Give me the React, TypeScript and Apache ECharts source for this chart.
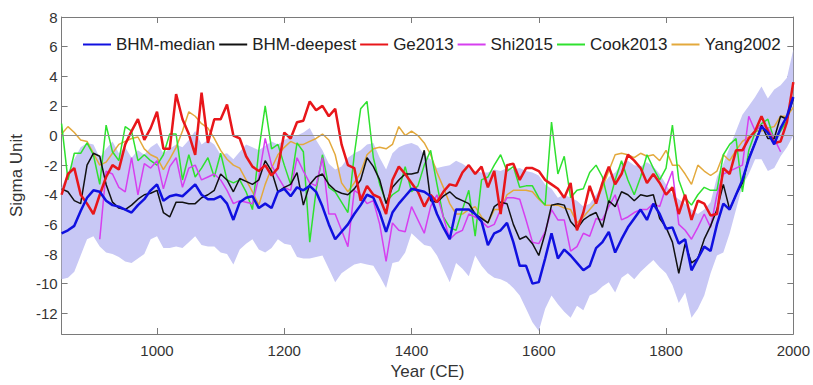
import React, { useEffect, useRef } from "react";
import * as echarts from "echarts";

// decades 850..2000 CE
const years: number[] = Array.from({ length: 116 }, (_, i) => 850 + 10 * i);

const xTicks = [1000, 1200, 1400, 1600, 1800, 2000];
const yTicks = [-12, -10, -8, -6, -4, -2, 0, 2, 4, 6, 8];

const bhmMedian = [
  -6.6, -6.4, -6.1, -5.1, -4.2, -3.7, -3.8, -4.4, -4.7, -4.8,
  -5.0, -5.2, -4.7, -4.3, -3.7, -3.3, -4.4, -4.1, -4.0, -4.1,
  -3.7, -3.3, -4.0, -4.3, -4.3, -4.1, -4.6, -5.7, -4.5, -4.2,
  -4.1, -4.9, -4.6, -4.9, -3.8, -3.6, -4.1, -3.5, -3.7, -3.4,
  -3.8, -4.8, -6.0, -7.0, -6.5, -6.0, -5.3, -4.7, -4.0, -4.2,
  -5.2, -6.5, -5.2, -4.6, -4.1, -3.6, -3.7, -3.8, -4.1, -5.3,
  -6.2, -7.0, -5.0, -5.0, -5.0, -5.3, -5.8, -7.4, -6.6, -6.4,
  -5.9, -7.2, -8.8, -8.8, -10.0, -9.9, -8.3, -6.6, -8.3, -7.7,
  -8.1, -8.6, -9.1, -8.8, -7.6, -7.2, -6.5, -7.9, -7.0, -6.2,
  -5.6, -5.0, -5.7, -4.6, -5.3, -6.3, -6.2, -7.3, -7.0, -9.1,
  -8.3, -7.5, -7.8, -6.0, -4.6, -5.0, -4.0, -3.0, -1.6, -0.5,
  0.6, 0.2, -0.6, 0.5, 1.3, 2.6,
];

const bhmUpper = [
  -3.5, -2.5, -1.6, -0.8, -0.5, -0.6, -1.5, -0.9, -0.4, -1.2,
  -0.8, -1.5, -1.0, -1.3, -0.8, -0.5, -1.2, -0.9, -0.6, -0.8,
  -0.3, 0.3, -0.6, -0.3, -0.6, -1.3, -1.2, -1.6, -1.1, -0.6,
  -0.8, -1.0, -0.7, -0.4, -0.6, -0.3, -0.1, 0.0, 0.2, 0.5,
  -0.3, -1.0, -1.9, -2.3, -2.1, -1.5, -1.2, -1.0, -0.6, -0.5,
  -1.5, -2.3, -1.2, -0.8, -0.6, -0.5, -0.7, -1.3, -1.6, -2.2,
  -2.1, -2.0, -1.7, -1.9, -2.2, -2.4, -2.5, -2.5, -2.3, -2.4,
  -2.2, -2.3, -2.2, -2.4, -2.5, -2.7, -3.3, -3.6, -4.2, -4.0,
  -4.2, -4.4, -4.8, -4.6, -4.0, -3.4, -2.8, -2.5, -1.9, -1.7,
  -2.0, -2.1, -1.8, -2.1, -2.6, -3.3, -4.0, -4.3, -4.6, -5.0,
  -5.3, -5.0, -4.5, -2.8, -1.9, -0.8, 0.3, 1.4, 2.0, 2.6,
  3.3, 2.5, 3.1, 3.4, 3.9, 5.8,
];

const bhmLower = [
  -9.7, -9.6, -9.2, -8.1, -7.0, -6.8, -7.5, -7.9, -8.0, -8.2,
  -8.5, -8.6, -8.3, -8.0, -7.0, -6.8, -7.6, -7.6, -7.5, -7.6,
  -7.2, -6.8, -7.4, -7.5, -7.5, -7.9, -8.0, -8.7, -7.7, -7.3,
  -7.0, -7.7, -7.9, -7.6, -7.0, -7.3, -7.4, -8.2, -8.3, -8.3,
  -8.2, -8.1, -9.0, -9.9, -9.3, -9.0, -8.7, -8.6, -8.7, -8.8,
  -9.5, -10.3, -8.6, -8.5, -7.9, -6.6, -7.0, -7.4, -7.5, -8.1,
  -9.0, -9.9, -8.6, -9.0, -9.5, -8.1, -8.8, -9.3, -9.6, -9.7,
  -9.9, -10.3, -10.8, -11.7, -12.6, -13.2, -11.7, -10.8, -11.4, -11.9,
  -12.3, -11.5, -11.8, -10.8, -10.6, -10.2, -9.9, -10.6, -9.6, -9.3,
  -9.7, -9.2, -8.8, -8.4, -8.9, -9.3, -10.1, -11.3, -10.6, -12.3,
  -11.7, -10.8, -9.3, -8.1, -7.9, -6.6, -5.0, -3.4, -2.6, -1.6,
  -1.6, -2.4, -2.2, -1.4, -0.8, 0.0,
];

const bhmDeepest = [
  -3.6, -3.8, -4.4, -4.6, -2.0, -1.2, -1.4, -3.3, -4.5, -4.9,
  -5.0, -4.7, -4.3, -4.0, -3.9, -3.7, -5.2, -5.5, -4.5, -4.5,
  -4.6, -4.6, -4.2, -4.0, -3.7, -2.6, -3.0, -3.8, -2.9, -3.1,
  -3.3, -3.0, -1.7, -2.4, -3.8, -3.5, -3.3, -2.5, -4.7, -3.3,
  -2.8, -2.6, -3.3, -3.7, -3.9, -4.0, -3.6, -3.0, -1.5, -2.1,
  -3.0, -4.6, -3.5, -3.0, -2.6, -2.6, -2.5, -1.0, -4.4, -4.5,
  -4.1, -3.8, -4.2, -4.4, -4.6, -5.3, -5.6, -5.9, -4.8, -4.5,
  -4.6, -6.0, -7.0, -6.8, -7.3, -8.1, -6.6, -4.7, -4.6, -4.7,
  -5.8, -6.3, -5.7, -5.4, -5.2, -6.2, -4.4, -4.8, -3.8, -4.0,
  -4.4, -4.0, -4.1, -4.0, -5.6, -6.2, -7.2, -9.3, -7.3, -8.6,
  -8.3, -7.0, -6.1, -5.0, -3.3, -5.0, -4.0, -3.2, -1.5, -0.5,
  0.7, -0.2, -0.2, 1.3, 1.1, 2.5,
];

const ge2013 = [
  -4.0, -2.6, -2.2, -4.0, -4.6, -5.3, -4.0, -2.8, -2.0, -2.3,
  -0.6, 0.3, 1.1, -0.3, 0.5, 1.6, -0.9, -0.9, 2.8, 1.1,
  0.1, -1.3, 2.9, -0.5, 1.1, 1.1, 2.1, 0.0, -0.2, -1.4,
  -2.1, -2.4, -2.0, -2.7, -2.2, 0.2, -0.2, 0.9, 1.0, 2.3,
  1.7, 2.0, 1.3, 1.8, -0.6, -2.0, -2.2, -4.4, -3.4, -4.0,
  -4.2, -5.3, -3.0, -2.1, -2.6, -3.2, -3.8, -4.8, -4.0, -4.5,
  -3.8, -3.3, -3.4, -2.5, -2.0, -2.6, -2.1, -3.5, -2.4, -5.3,
  -2.0, -1.9, -3.0, -2.2, -2.2, -2.4, -3.0, -3.3, -3.6, -4.2,
  -3.2, -6.4, -5.2, -3.4, -4.6, -3.2, -2.1, -3.3, -2.6, -1.3,
  -1.7, -2.2, -3.2, -2.6, -3.2, -4.0, -3.5, -5.3, -4.0, -5.7,
  -4.4, -4.6, -5.4, -5.3, -2.2, -2.6, -1.0, -1.0, -0.2, 0.3,
  1.3, 0.3, -0.5, -0.4, 0.9, 3.6,
];

const shi2015 = [
  null, null, null, null, null, null, -7.0, -2.4, -2.6, -3.5,
  -3.8, -1.5, -4.0, -1.9, -2.2, -1.7, -3.6, -2.1, -1.5, -3.5,
  -2.2, -2.0, -3.0, -2.8, -2.6, -3.0, -3.7, -4.6, -4.4, -4.5,
  -4.6, -2.8, -0.2, -2.0, -2.8, -3.5, -3.7, -1.5, -2.4, -3.2,
  -3.4, -1.5, -5.3, -5.3, -6.4, -7.5, -3.7, -4.0, -4.6, -4.4,
  -6.0, -8.5, -5.9, -6.4, -6.5, -4.8, -5.7, -6.6, -4.8, -4.0,
  -5.5, -7.0, -6.6, -6.4, -5.3, -5.5, -5.8, -6.2, -6.0, -5.0,
  -4.2, -4.2, -4.3, -5.7, -7.2, -7.3, -6.5, -5.0, -5.7, -5.7,
  -7.8, -7.5, -6.6, -6.8, -5.6, -5.7, -4.8, -4.0, -5.7, -5.5,
  -5.2, -5.0, -5.0, -4.6, -4.8, -3.5, -2.4, -6.0, -6.4, -7.0,
  -6.2, -5.3, -6.2, -4.0, -2.6, -2.4, -2.2, -2.0, 1.3, 0.3,
  0.7, 0.5, -0.2, -1.1, null, null,
];

const cook2013 = [
  0.8, -3.0, -1.2, -1.2, -0.5, -1.3, -3.3, 0.7, -1.1, -1.7,
  0.6, 0.3, -1.7, -1.3, -1.7, -2.0, -1.3, 0.1, 0.1, -3.0,
  -1.3, -2.8, -2.2, -1.5, -2.8, -1.2, -3.0, -3.2, -3.0, -3.8,
  -5.0, -1.0, 2.0, -0.9, -0.6, -2.0, -3.3, -0.5, -1.1, -7.2,
  -3.7, -1.3, -3.5, -3.8, -4.5, -5.2, -1.3, 1.8, 2.3, -1.5,
  -3.3, -4.5, -4.0, -3.7, -2.1, -3.8, -3.4, -2.0, -1.0, -3.3,
  -5.5, -6.2, -6.4, -5.0, -3.7, -6.8, -3.0, -2.8, -2.0, -1.3,
  -2.4, -2.1, -3.5, -3.4, -3.4, -4.2, -4.7, 0.9, -2.6, -1.4,
  -4.2, -3.7, -3.6, -2.5, -2.0, -2.8, -4.6, -3.0, -1.7, -3.0,
  -4.0, -2.8, -1.3, -2.2, -3.0, -2.2, 0.7, -3.0, -4.2, -4.7,
  -4.0, -3.5, -3.7, -3.7, -1.3, -0.6, -0.2, -3.8, -1.0, 0.2,
  0.8, 1.1, -0.3, 0.3, 1.0, null,
];

const yang2002 = [
  0.1, 0.6, 0.2, -0.3, -0.4, -1.2, -2.0, -1.8, -1.2, -0.6,
  -0.4, -0.2, -0.1, -0.9, -1.3, -1.5, -2.3, -1.6, -0.8, 0.3,
  1.6, 1.3, 0.8, 0.5, -0.2, -1.0, -1.6, -2.0, -2.2, -3.0,
  -3.8, -4.7, -3.3, -2.2, -1.3, -0.8, -0.4, -0.6, -0.6, -0.4,
  -0.2, 0.1, -0.3, -1.3, -3.2, -3.8, -3.2, -2.5, -1.3, -0.9,
  -0.8, -0.9, -0.6, 0.6, 0.0, 0.3, 0.0, -0.5, -1.3, -2.5,
  -3.5, -4.6, -5.3, -5.3, -5.0, -4.8, -5.5, -5.9, -5.0, -5.0,
  -4.0, -3.7, -3.7, -3.7, -3.8, -4.3, -4.7, -4.7, -4.7, -4.9,
  -5.0, -5.9, -5.5, -5.0, -4.5, -3.5, -2.4, -1.3, -1.2, -1.3,
  -1.5, -1.2, -1.4, -1.3, -1.7, -1.0, -2.0, -2.0, -2.6, -3.3,
  -2.0, -2.4, -2.7, -2.4, -1.3, -1.7, -1.0, -0.4, -0.1, 0.3,
  0.3, 0.5, 0.6, 1.3, 1.3, 1.9,
];

const FONT = "'Liberation Sans', Arial, sans-serif";

function pairs(vals: (number | null)[]) {
  return years.map((y, i) => [y, vals[i] === undefined ? null : vals[i]]);
}

export default function App() {
  const ref = useRef<HTMLDivElement>(null);
  useEffect(() => {
    if (!ref.current) return;
    const chart = echarts.init(ref.current, null, { renderer: "svg" });
    const axisColor = "#7a7a7a";
    const lineSeries = (name: string, vals: (number | null)[], color: string, width: number) => ({
      name,
      type: "line",
      data: pairs(vals),
      symbol: "none",
      showSymbol: false,
      connectNulls: false,
      lineStyle: { color, width },
      itemStyle: { color },
      z: 3,
    });
    const plainLabel = (v: number) => String(v);
    // band rows: [year, lower, upper]
    const bandRows = years.map((y, i) => [y, bhmLower[i], bhmUpper[i]]);
    const option: any = {
      animation: false,
      backgroundColor: "#ffffff",
      grid: { left: 60, right: 17, top: 17, bottom: 46, containLabel: false },
      legend: {
        data: ["BHM-median", "BHM-deepest", "Ge2013", "Shi2015", "Cook2013", "Yang2002"],
        left: 78,
        top: 31,
        icon: "rect",
        itemWidth: 28,
        itemHeight: 2,
        itemGap: 4,
        textStyle: { fontSize: 17, fontFamily: FONT, color: "#222" },
      },
      xAxis: [
        {
          type: "value",
          min: 850,
          max: 2000,
          name: "Year (CE)",
          nameLocation: "middle",
          nameGap: 29,
          nameTextStyle: { fontSize: 17, fontFamily: FONT, color: "#333" },
          axisLine: { show: true, onZero: false, lineStyle: { color: axisColor, width: 1 } },
          axisTick: { show: true, inside: true, length: 6, customValues: xTicks, lineStyle: { color: axisColor } },
          axisLabel: { customValues: xTicks, formatter: plainLabel, fontSize: 15, fontFamily: FONT, color: "#333", margin: 9 },
          splitLine: { show: false },
        },
        {
          type: "value",
          position: "top",
          min: 850,
          max: 2000,
          axisLine: { show: true, onZero: false, lineStyle: { color: axisColor, width: 1 } },
          axisTick: { show: true, inside: true, length: 6, customValues: xTicks, lineStyle: { color: axisColor } },
          axisLabel: { show: false },
          splitLine: { show: false },
        },
      ],
      yAxis: [
        {
          type: "value",
          min: -13.4,
          max: 8,
          name: "Sigma Unit",
          nameLocation: "middle",
          nameGap: 27,
          nameTextStyle: { fontSize: 17, fontFamily: FONT, color: "#333" },
          axisLine: { show: true, onZero: false, lineStyle: { color: axisColor, width: 1 } },
          axisTick: { show: true, inside: true, length: 6, customValues: yTicks, lineStyle: { color: axisColor } },
          axisLabel: { customValues: yTicks, formatter: plainLabel, fontSize: 15, fontFamily: FONT, color: "#333", margin: 4 },
          splitLine: { show: false },
        },
        {
          type: "value",
          position: "right",
          min: -13.4,
          max: 8,
          axisLine: { show: true, onZero: false, lineStyle: { color: axisColor, width: 1 } },
          axisTick: { show: true, inside: true, length: 6, customValues: yTicks, lineStyle: { color: axisColor } },
          axisLabel: { show: false },
          splitLine: { show: false },
        },
      ],
      series: [
        {
          name: "BHM-range",
          type: "custom",
          data: bandRows,
          encode: { x: 0, y: [1, 2] },
          silent: true,
          z: 1,
          renderItem: (params: any, api: any) => {
            if (params.dataIndex !== 0) return null;
            const top = bandRows.map((r) => api.coord([r[0], r[2]]));
            const bottom = bandRows.map((r) => api.coord([r[0], r[1]])).reverse();
            return {
              type: "polygon",
              shape: { points: top.concat(bottom) },
              style: { fill: "#c8c8f5", stroke: "none" },
            };
          },
          markLine: {
            silent: true,
            symbol: ["none", "none"],
            label: { show: false },
            lineStyle: { color: "#8c8c8c", width: 1, type: "solid" },
            data: [{ yAxis: 0 }],
          },
        },
        lineSeries("Yang2002", yang2002, "#e3a93c", 1.5),
        lineSeries("Cook2013", cook2013, "#2fe12f", 1.5),
        lineSeries("Shi2015", shi2015, "#d63fef", 1.5),
        lineSeries("BHM-deepest", bhmDeepest, "#111111", 1.5),
        lineSeries("Ge2013", ge2013, "#e8161a", 2.5),
        lineSeries("BHM-median", bhmMedian, "#1010e0", 2.5),
      ],
    };
    chart.setOption(option);
    return () => chart.dispose();
  }, []);
  return (
    <div
      ref={ref}
      style={{ position: "fixed", left: 0, top: 0, width: 813, height: 385, background: "#fff" }}
    />
  );
}
